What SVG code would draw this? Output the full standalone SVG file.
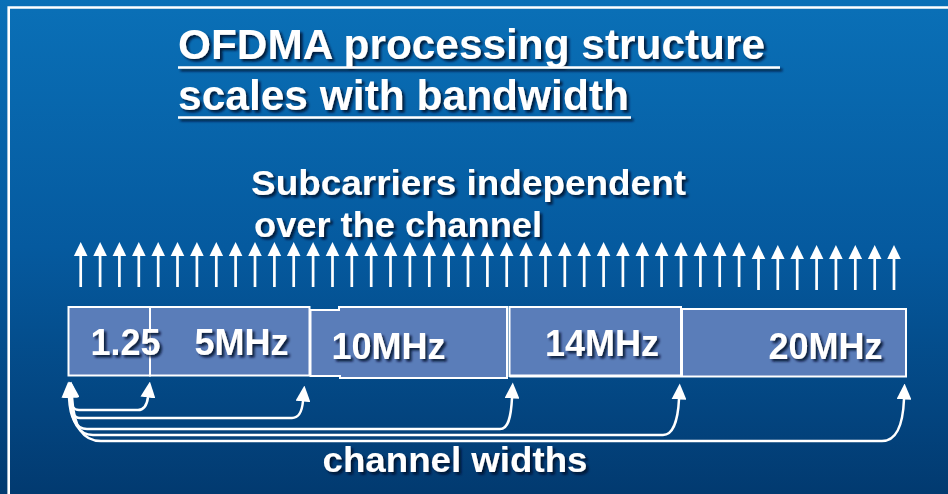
<svg xmlns="http://www.w3.org/2000/svg" xmlns:xlink="http://www.w3.org/1999/xlink" width="948" height="494" viewBox="0 0 948 494">
  <defs>
    <linearGradient id="bg" x1="0" y1="0" x2="0" y2="1">
      <stop offset="0" stop-color="#0a70b7"/>
      <stop offset="0.5" stop-color="#055a9f"/>
      <stop offset="1" stop-color="#023a70"/>
    </linearGradient>
    <filter id="shadow" x="-5%" y="-20%" width="115%" height="150%">
      <feDropShadow dx="2.5" dy="2.5" stdDeviation="1" flood-color="#00102a" flood-opacity="0.85"/>
    </filter>
    <!-- one subcarrier: head tip at origin, shaft below -->
    <g id="sc">
      <path d="M0,0 L6.8,14 L-6.8,14 Z" fill="#fff"/>
      <rect x="-1.35" y="13" width="2.7" height="32" fill="#fff"/>
    </g>
    <marker id="head" markerUnits="userSpaceOnUse" markerWidth="16" markerHeight="15" viewBox="0 0 16 15" refX="0.5" refY="7.5" orient="auto-start-reverse">
      <path d="M0,0 L16,7.5 L0,15 Z" fill="#fff"/>
    </marker>
  </defs>
  <style>
    .t { font-family: "Liberation Sans", Arial, sans-serif; font-weight: bold; fill: #fff; }
    .box { fill: #5a7db9; stroke: #fff; stroke-width: 2; }
    .ul { stroke: #fff; stroke-width: 2.5; }
    .conn { fill: none; stroke: #fff; stroke-width: 2.5; marker-start: url(#head); marker-end: url(#head); }
  </style>

  <rect width="948" height="494" fill="url(#bg)"/>
  <path d="M8.7,494 V7.5 H948" fill="none" stroke="#fff" stroke-width="2.6"/>

  <g id="title" filter="url(#shadow)">
    <text class="t" x="178" y="59" font-size="42" textLength="587" lengthAdjust="spacingAndGlyphs">OFDMA processing structure</text>
    <line class="ul" x1="178" y1="67.5" x2="780" y2="67.5"/>
    <text class="t" x="178" y="109.5" font-size="42" textLength="451" lengthAdjust="spacingAndGlyphs">scales with bandwidth</text>
    <line class="ul" x1="178" y1="117.5" x2="631" y2="117.5"/>
  </g>

  <g id="subtitle" filter="url(#shadow)">
    <text class="t" x="251" y="195" font-size="35" textLength="435" lengthAdjust="spacingAndGlyphs">Subcarriers independent</text>
    <text class="t" x="254" y="237" font-size="35" textLength="288" lengthAdjust="spacingAndGlyphs">over the channel</text>
  </g>

  <g id="subcarriers">
    <use href="#sc" x="80.7" y="242"/>
    <use href="#sc" x="100.1" y="242"/>
    <use href="#sc" x="119.4" y="242"/>
    <use href="#sc" x="138.8" y="242"/>
    <use href="#sc" x="158.2" y="242"/>
    <use href="#sc" x="177.5" y="242"/>
    <use href="#sc" x="196.9" y="242"/>
    <use href="#sc" x="216.3" y="242"/>
    <use href="#sc" x="235.6" y="242"/>
    <use href="#sc" x="255.0" y="242"/>
    <use href="#sc" x="274.4" y="242"/>
    <use href="#sc" x="293.7" y="242"/>
    <use href="#sc" x="313.1" y="242"/>
    <use href="#sc" x="332.5" y="242"/>
    <use href="#sc" x="351.8" y="242"/>
    <use href="#sc" x="371.2" y="242"/>
    <use href="#sc" x="390.5" y="242"/>
    <use href="#sc" x="409.9" y="242"/>
    <use href="#sc" x="429.3" y="242"/>
    <use href="#sc" x="448.6" y="242"/>
    <use href="#sc" x="468.0" y="242"/>
    <use href="#sc" x="487.4" y="242"/>
    <use href="#sc" x="506.7" y="242"/>
    <use href="#sc" x="526.1" y="242"/>
    <use href="#sc" x="545.5" y="242"/>
    <use href="#sc" x="564.8" y="242"/>
    <use href="#sc" x="584.2" y="242"/>
    <use href="#sc" x="603.6" y="242"/>
    <use href="#sc" x="622.9" y="242"/>
    <use href="#sc" x="642.3" y="242"/>
    <use href="#sc" x="661.6" y="242"/>
    <use href="#sc" x="681.0" y="242"/>
    <use href="#sc" x="700.4" y="242"/>
    <use href="#sc" x="719.7" y="242"/>
    <use href="#sc" x="739.1" y="242"/>
    <use href="#sc" x="758.5" y="245"/>
    <use href="#sc" x="777.8" y="245"/>
    <use href="#sc" x="797.2" y="245"/>
    <use href="#sc" x="816.6" y="245"/>
    <use href="#sc" x="835.9" y="245"/>
    <use href="#sc" x="855.3" y="245"/>
    <use href="#sc" x="874.7" y="245"/>
    <use href="#sc" x="894.0" y="245"/>
  </g>

  <g id="box-20">
    <rect class="box" x="682" y="309" width="224" height="67.5"/>
    <text class="t" x="768.5" y="358.5" font-size="36" filter="url(#shadow)">20MHz</text>
  </g>
  <g id="box-14">
    <rect class="box" x="509.5" y="307" width="171.5" height="69"/>
    <line x1="509.5" y1="376" x2="681" y2="376" stroke="#fff" stroke-width="3"/>
    <text class="t" x="545" y="356" font-size="36" filter="url(#shadow)">14MHz</text>
  </g>
  <g id="box-10">
    <path class="box" d="M310.5,310 H339 V307 H507 V378 H340 V376 H310.5 Z"/>
    <text class="t" x="331.5" y="358.5" font-size="36" filter="url(#shadow)">10MHz</text>
  </g>
  <g id="box-5">
    <rect class="box" x="150" y="307" width="159.5" height="68.5"/>
    <text class="t" x="194.5" y="355" font-size="36" filter="url(#shadow)">5MHz</text>
  </g>
  <g id="box-1-25">
    <rect class="box" x="68.5" y="307" width="81.5" height="68.5"/>
    <text class="t" x="90.5" y="355" font-size="36" filter="url(#shadow)">1.25</text>
  </g>

  <g id="connectors">
    <path class="conn" d="M71,397 C71,406 73,410 79,410 H138 C144,410 147,405 148,397"/>
    <path class="conn" d="M70,397 C70,410 73,418 80,418 H292 C299,418 302,412 303,401"/>
    <path class="conn" d="M69,397 C70,418 76,429 87,429 H500 C508,429 511,418 512,398"/>
    <path class="conn" d="M70,397 C71,422 78,435 93,435 H663 C673,435 678,420 679,399"/>
    <path class="conn" d="M72,397 C74,428 83,441 101,441 H882 C896,441 903,425 904,399"/>
  </g>

  <g id="channel-widths" filter="url(#shadow)">
    <text class="t" x="322.5" y="472" font-size="35" textLength="265" lengthAdjust="spacingAndGlyphs">channel widths</text>
  </g>
</svg>
